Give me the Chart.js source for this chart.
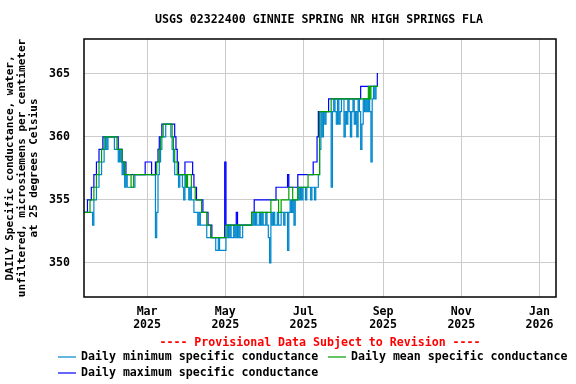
<!DOCTYPE html>
<html>
<head>
<meta charset="utf-8">
<script src="https://cdn.jsdelivr.net/npm/chart.js@4.4.1/dist/chart.umd.min.js"></script>
<style>
  html, body { margin: 0; padding: 0; background: #fff; }
  canvas { display: block; }
</style>
</head>
<body>
<canvas id="chart" width="576" height="384"></canvas>
<script>
// daily values, one per day starting at firstDate
const firstDate = "2025-01-11";

const dailyMin = [
  354,354,354,354,354,354,354,353,355,355,
  356,356,357,357,358,358,359,360,359,360,
  360,360,360,360,359,359,359,358,359,358,
  357,358,356,357,356,356,356,356,356,356,
  357,357,357,357,357,357,357,357,357,357,
  357,357,357,357,357,357,352,354,357,358,
  359,360,360,360,361,361,361,361,360,359,
  358,357,357,357,356,357,357,356,355,357,
  356,356,355,356,355,355,354,354,354,353,
  354,353,353,353,353,353,352,352,352,352,
  352,352,352,351,351,352,351,351,351,351,
  351,352,353,352,353,352,352,353,352,353,
  352,353,352,352,353,353,353,353,353,353,
  353,353,354,353,354,353,353,354,353,354,
  353,353,354,353,352,350,354,353,354,353,
  353,354,353,353,354,354,353,354,354,351,
  354,355,354,355,353,355,355,356,355,356,
  355,356,356,355,356,356,356,355,356,356,
  355,356,356,357,359,362,360,362,361,362,
  362,362,362,356,362,363,362,361,363,361,
  362,363,363,360,362,361,363,362,360,362,
  363,361,362,360,363,362,359,361,363,362,
  363,362,363,362,358,363,364,363,364,364
];

const dailyMean = [
  354,354,354,354,354,355,355,355,356,356,
  357,357,358,358,359,359,360,360,360,360,
  360,360,360,360,360,360,359,359,359,359,
  358,358,357,357,357,357,357,356,356,357,
  357,357,357,357,357,357,357,357,357,357,
  357,357,357,357,357,357,357,358,358,359,
  360,360,361,361,361,361,361,361,361,360,
  359,358,358,357,357,357,357,357,357,357,
  356,357,357,357,356,356,356,355,355,355,
  355,355,354,354,354,354,353,353,353,352,
  352,352,352,352,352,352,352,352,352,352,
  352,353,353,353,353,353,353,353,353,353,
  353,353,353,353,353,353,353,353,353,353,
  353,354,354,354,354,354,354,354,354,354,
  354,354,354,354,354,354,355,355,355,355,
  355,355,354,354,355,355,355,355,355,355,
  356,356,356,355,355,355,355,356,356,356,
  356,356,356,356,356,357,357,357,357,357,
  357,357,357,357,362,362,362,362,362,362,
  362,362,362,363,363,363,363,363,363,363,
  363,363,363,363,363,363,363,363,363,363,
  363,363,363,363,363,363,363,363,363,363,
  363,363,364,363,364,364,364,364,364,364
];

const dailyMax = [
  354,354,354,355,355,355,356,356,357,357,
  358,358,359,359,359,360,360,360,360,360,
  360,360,360,360,360,360,360,359,359,359,
  358,358,358,357,357,357,357,357,357,357,
  357,357,357,357,357,357,357,357,358,358,
  358,358,358,357,357,357,358,358,359,360,
  360,361,361,361,361,361,361,361,361,361,
  361,360,359,358,357,357,357,357,357,358,
  358,358,358,358,358,357,356,356,355,355,
  355,355,355,354,354,354,354,353,353,353,
  352,352,352,352,352,352,352,352,352,352,
  358,353,353,353,353,353,353,353,353,354,
  353,353,353,353,353,353,353,353,353,353,
  353,354,354,355,355,355,355,355,355,355,
  355,355,355,355,355,355,355,355,355,355,
  356,356,356,356,356,356,356,356,356,357,
  356,356,356,356,356,356,356,357,357,357,
  357,357,357,357,357,357,357,357,357,358,
  358,358,360,362,362,362,362,362,362,362,
  362,363,363,363,363,363,363,363,363,363,
  363,363,363,363,363,363,363,363,363,363,
  363,363,363,363,363,363,364,364,364,364,
  364,364,364,364,364,364,364,364,364,365
];

const yTicks = [350, 355, 360, 365];
const xTickDates = ["2025-03-01", "2025-05-01", "2025-07-01", "2025-09-01", "2025-11-01", "2026-01-01"];
const xTickLabels = [["Mar", "2025"], ["May", "2025"], ["Jul", "2025"], ["Sep", "2025"], ["Nov", "2025"], ["Jan", "2026"]];

const seriesLabels = [
  "Daily minimum specific conductance",
  "Daily mean specific conductance",
  "Daily maximum specific conductance"
];
const seriesColors = ["#0088cc", "#00a000", "#0000ff"];

const titleText = "USGS 02322400 GINNIE SPRING NR HIGH SPRINGS FLA";
const yTitle = [
  "DAILY Specific conductance, water,",
  "unfiltered, microsiemens per centimeter",
  "at 25 degrees Celsius"
];
const noteText = "---- Provisional Data Subject to Revision ----";

const FONT = "'DejaVu Sans Mono', 'Liberation Mono', monospace";

function dayNum(s) {
  return (Date.parse(s + "T00:00:00Z") - Date.parse("2025-01-01T00:00:00Z")) / 86400000;
}
const day0 = dayNum(firstDate);
const toPoints = (arr) => arr.map((v, i) => ({ x: day0 + i, y: v }));

const overlay = {
  id: "overlay",
  afterDraw(chart) {
    const ctx = chart.ctx;
    const area = chart.chartArea;
    ctx.save();
    // plot frame
    ctx.strokeStyle = "#000";
    ctx.lineWidth = 1.5;
    ctx.strokeRect(area.left, area.top, area.right - area.left, area.bottom - area.top);

    ctx.font = "bold 11.6px " + FONT;
    ctx.textBaseline = "middle";
    ctx.textAlign = "center";
    ctx.fillStyle = "#000";
    ctx.fillText(titleText, 319, 20);

    ctx.fillStyle = "#ff0000";
    ctx.fillText(noteText, 320, 343);

    // legend
    const rows = [
      { x: 58, y: 357, i: 0 },
      { x: 328, y: 357, i: 1 },
      { x: 58, y: 373, i: 2 }
    ];
    ctx.textAlign = "left";
    rows.forEach((r) => {
      ctx.strokeStyle = seriesColors[r.i];
      ctx.lineWidth = 1.2;
      ctx.beginPath();
      ctx.moveTo(r.x, r.y);
      ctx.lineTo(r.x + 18, r.y);
      ctx.stroke();
      ctx.fillStyle = "#000";
      ctx.fillText(seriesLabels[r.i], r.x + 23, r.y);
    });
    ctx.restore();
  }
};

const mkSet = (i, data, order) => ({
  label: seriesLabels[i],
  data: toPoints(data),
  borderColor: seriesColors[i],
  backgroundColor: seriesColors[i],
  borderWidth: 1.2,
  pointRadius: 0,
  stepped: "middle",
  fill: false,
  order: order
});

new Chart(document.getElementById("chart"), {
  type: "line",
  data: {
    datasets: [
      mkSet(0, dailyMin, 2),
      mkSet(1, dailyMean, 1),
      mkSet(2, dailyMax, 3)
    ]
  },
  options: {
    responsive: false,
    animation: false,
    layout: { padding: { top: 39, right: 20, bottom: 46, left: 0 } },
    plugins: {
      legend: { display: false },
      title: { display: false },
      tooltip: { enabled: false }
    },
    scales: {
      x: {
        type: "linear",
        min: 9.8,
        max: 377.8,
        afterBuildTicks: (scale) => {
          scale.ticks = xTickDates.map((d) => ({ value: dayNum(d) }));
        },
        afterFit: (scale) => { scale.height = 41; },
        grid: { color: "#cccccc", lineWidth: 1, drawTicks: false },
        border: { display: false },
        ticks: {
          autoSkip: false,
          maxRotation: 0,
          padding: 8,
          color: "#000",
          font: { family: FONT, size: 11.6, weight: "bold", lineHeight: 1.15 },
          callback: (v, i) => xTickLabels[i]
        }
      },
      y: {
        min: 347.3,
        max: 367.75,
        afterBuildTicks: (scale) => {
          scale.ticks = yTicks.map((v) => ({ value: v }));
        },
        afterFit: (scale) => { scale.width = 84; },
        grid: { color: "#cccccc", lineWidth: 1, drawTicks: false },
        border: { display: false },
        ticks: {
          padding: 14,
          color: "#000",
          font: { family: FONT, size: 11.6, weight: "bold" }
        },
        title: {
          display: true,
          text: yTitle,
          color: "#000",
          padding: { top: 4, bottom: 0 },
          font: { family: FONT, size: 11, weight: "bold", lineHeight: 1.1 }
        }
      }
    }
  },
  plugins: [overlay]
});
</script>
</body>
</html>
